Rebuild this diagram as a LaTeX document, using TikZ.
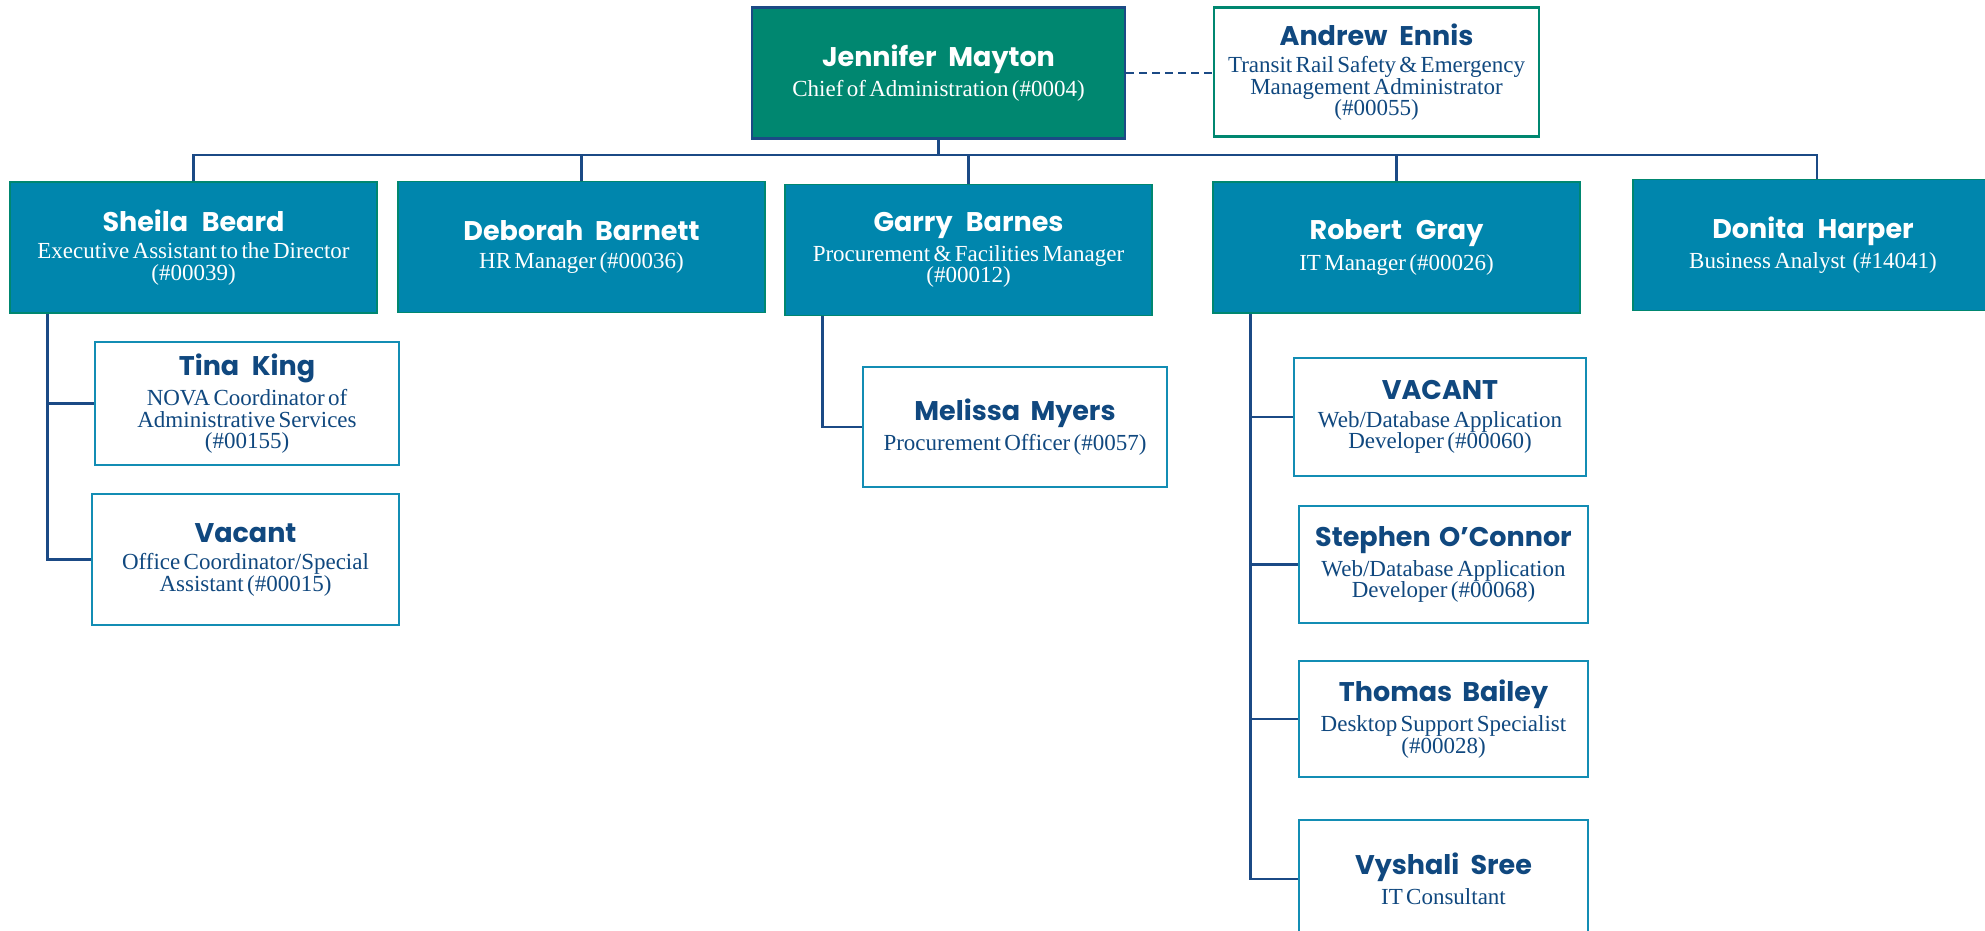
\documentclass[tikz,border=0pt]{standalone}
\usepackage{fontspec}
\setmainfont{Liberation Serif}
\newfontfamily\namefont{Poppins}
\definecolor{chiefgreen}{HTML}{008770}
\definecolor{mgrblue}{HTML}{0086AD}
\definecolor{navy}{HTML}{1B4A85}
\definecolor{boxline}{HTML}{138DB4}
\definecolor{namecol}{HTML}{10487F}
\newcommand{\person}[2]{{\namefont\bfseries\fontsize{27}{30}\selectfont\spaceskip=.28em plus .05em\relax #1\par}\vspace{6pt}{\fontsize{23}{21.5}\selectfont #2\par}}
\begin{document}
\begin{tikzpicture}[x=1pt,y=-1pt,
  chief/.style={draw=navy, line width=2.5pt, fill=chiefgreen, text=white,
    minimum width=373, minimum height=131, text width=360, align=center, inner sep=0},
  deputy/.style={draw=chiefgreen, line width=2.5pt, fill=white, text=namecol,
    minimum width=325, minimum height=129, text width=318, align=center, inner sep=0},
  manager/.style={draw=chiefgreen, line width=1.5pt, fill=mgrblue, text=white,
    minimum width=367, minimum height=131, text width=360, align=center, inner sep=0},
  staff/.style={draw=boxline, line width=2.5pt, fill=white, text=namecol,
    minimum width=300, minimum height=120, text width=282, align=center, inner sep=0},
  link/.style={draw=navy, line width=2.5pt}]
  \useasboundingbox (0,0) rectangle (1985,930);

  \node[chief] (jennifer) at (938.5,73) {\person{Jennifer Mayton}{Chief of Administration (\#0004)}};
  \node[deputy] (andrew) at (1376.5,72) {\person{Andrew Ennis}{Transit Rail Safety \& Emergency\\ Management Administrator\\ (\#00055)}};

  \node[manager] (sheila) at (193.5,247.5) {\person{Sheila Beard}{Executive Assistant to the Director\\ (\#00039)}};
  \node[manager] (deborah) at (581.5,247) {\person{Deborah Barnett}{HR Manager (\#00036)}};
  \node[manager] (garry) at (968.5,250) {\person{Garry Barnes}{Procurement \& Facilities Manager\\ (\#00012)}};
  \node[manager] (robert) at (1396.5,247.5) {\person{Robert Gray}{IT Manager (\#00026)}};
  \node[manager, minimum width=360] (donita) at (1813,245) {\person{Donita Harper}{Business Analyst~ (\#14041)}};

  \node[staff, minimum width=304, minimum height=123] (tina) at (247,403.5) {\person{Tina King}{NOVA Coordinator of\\ Administrative Services\\ (\#00155)}};
  \node[staff, minimum width=307, minimum height=131] (vacant) at (245.5,559.5) {\person{Vacant}{Office Coordinator/Special\\ Assistant (\#00015)}};

  \node[staff, minimum width=304] (melissa) at (1015,427) {\person{Melissa Myers}{Procurement Officer (\#0057)}};

  \node[staff, minimum width=292, minimum height=118] (itvacant) at (1440,417) {\person{VACANT}{Web/Database Application\\ Developer (\#00060)}};
  \node[staff, minimum width=289, minimum height=117] (stephen) at (1443.5,564.5) {\person{Stephen O’Connor}{Web/Database Application\\ Developer (\#00068)}};
  \node[staff, minimum width=289, minimum height=116] (thomas) at (1443.5,719) {\person{Thomas Bailey}{Desktop Support Specialist\\ (\#00028)}};
  \node[staff, minimum width=289, minimum height=118] (vyshali) at (1443.5,879) {\person{Vyshali Sree}{IT Consultant}};

  \coordinate (bus) at (0,155);
  \draw[link, dash pattern=on 8pt off 5pt] (jennifer.east) -- (jennifer.east -| andrew.west);
  \draw[link] (sheila.north) -- (sheila.north |- bus) -| ([xshift=4pt]donita.north);
  \foreach \n in {jennifer.south, deborah.north, garry.north, robert.north}
    \draw[link] (\n) -- (\n |- bus);

  \coordinate (sheilatrunk) at ([xshift=38pt]sheila.south west);
  \coordinate (garrytrunk) at ([xshift=38pt]garry.south west);
  \coordinate (roberttrunk) at ([xshift=38pt]robert.south west);
  \foreach \n in {tina, vacant}
    \draw[link] (sheilatrunk) |- (\n.west);
  \draw[link] (garrytrunk) |- (melissa.west);
  \foreach \n in {itvacant, stephen, thomas, vyshali}
    \draw[link] (roberttrunk) |- (\n.west);
\end{tikzpicture}
\end{document}
